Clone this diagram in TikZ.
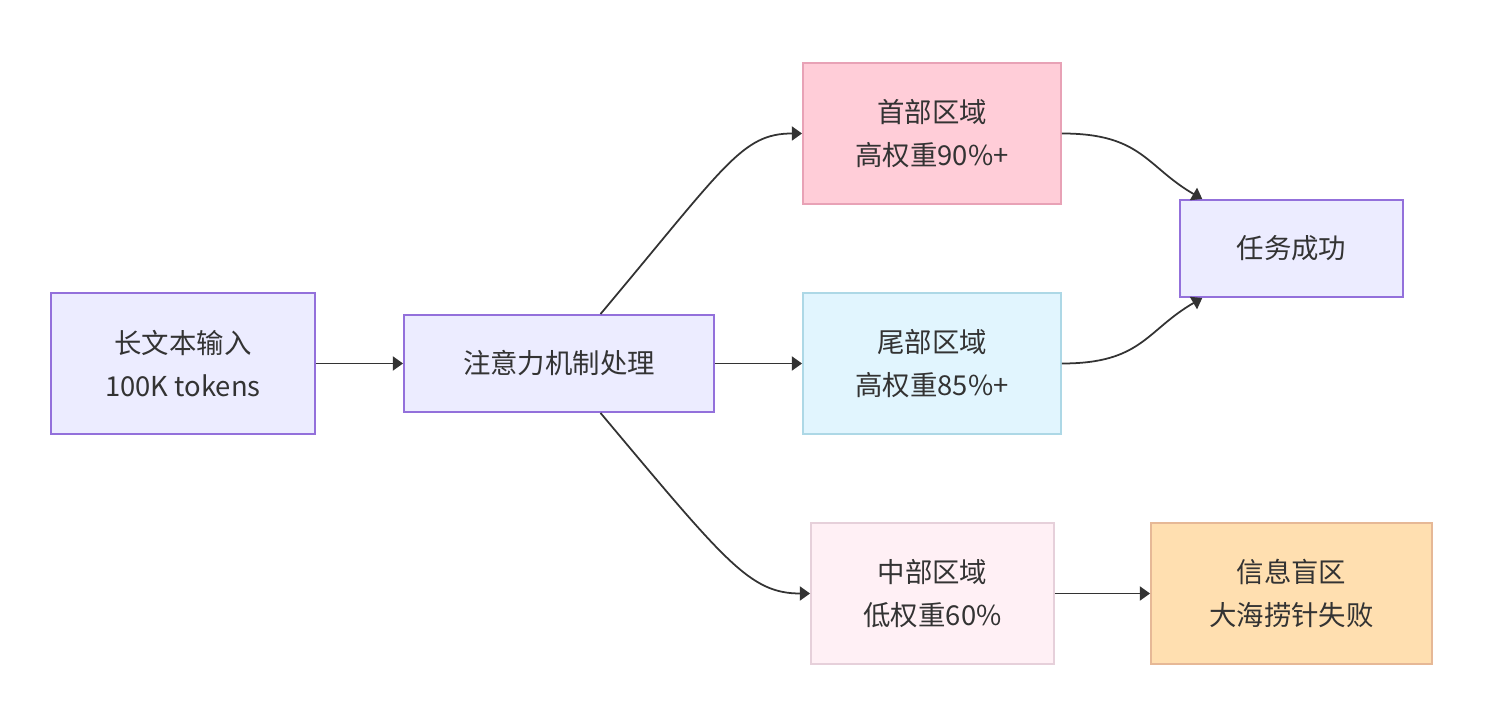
\documentclass[tikz,border=0pt]{standalone}
\usepackage{fontspec}
\setmainfont{Noto Sans CJK SC}
\usepackage{tikz}
\usetikzlibrary{arrows.meta, positioning}

\definecolor{txt}{HTML}{333333}
\definecolor{defFill}{HTML}{ECECFF}
\definecolor{defLine}{HTML}{9370DB}
\definecolor{headFill}{HTML}{FFCDD8}
\definecolor{headLine}{HTML}{E8A2B6}
\definecolor{tailFill}{HTML}{E1F5FE}
\definecolor{tailLine}{HTML}{ADD8E6}
\definecolor{midFill}{HTML}{FFF0F5}
\definecolor{midLine}{HTML}{E6D0DA}
\definecolor{blindFill}{HTML}{FFDFB0}
\definecolor{blindLine}{HTML}{E6B896}

\begin{document}
\begin{tikzpicture}[
    box/.style={rectangle,draw=defLine,fill=defFill,line width=1.1pt,
                align=center,text=txt,font=\fontsize{15.6}{24.4}\selectfont,
                inner sep=0pt},
    flow/.style={draw=txt,line width=1pt,-{Triangle[length=5.8pt,width=8pt]}}
  ]
  \useasboundingbox (0,0) rectangle (29.8,14.32);

  % left side
  \node[box,minimum width=5.28cm,minimum height=2.82cm]
        (inp) at(3.66,7.05){长文本输入\\100K tokens};
  \node[box,minimum width=6.2cm,minimum height=1.94cm]
        (attn) at(11.18,7.05){注意力机制处理};

  % the three regions
  \node[box,draw=headLine,fill=headFill,minimum width=5.16cm,minimum height=2.82cm]
        (head) at(18.64,11.65){首部区域\\高权重90\%+};
  \node[box,draw=tailLine,fill=tailFill,minimum width=5.16cm,minimum height=2.82cm]
        (tail) at(18.64,7.05){尾部区域\\高权重85\%+};
  \node[box,draw=midLine,fill=midFill,minimum width=4.86cm,minimum height=2.82cm]
        (mid) at(18.65,2.45){中部区域\\低权重60\%};

  % outcomes
  \node[box,minimum width=4.46cm,minimum height=1.94cm]
        (succ) at(25.83,9.35){任务成功};
  \node[box,draw=blindLine,fill=blindFill,minimum width=5.62cm,minimum height=2.82cm]
        (blind) at(25.83,2.45){信息盲区\\大海捞针失败};

  \draw[flow](inp)--(attn);
  \draw[flow](attn)--(tail);
  \draw[flow](attn.50) to[out=50,in=180,out distance=3.9cm,in distance=1.2cm] (head.west);
  \draw[flow](attn.-50) to[out=-50,in=180,out distance=3.9cm,in distance=1.2cm] (mid.west);
  \draw[flow](head.east) to[out=0,in=150,out distance=1.6cm,in distance=1.3cm] (succ.151);
  \draw[flow](tail.east) to[out=0,in=-150,out distance=1.6cm,in distance=1.3cm] (succ.-151);
  \draw[flow](mid)--(blind);
\end{tikzpicture}
\end{document}
